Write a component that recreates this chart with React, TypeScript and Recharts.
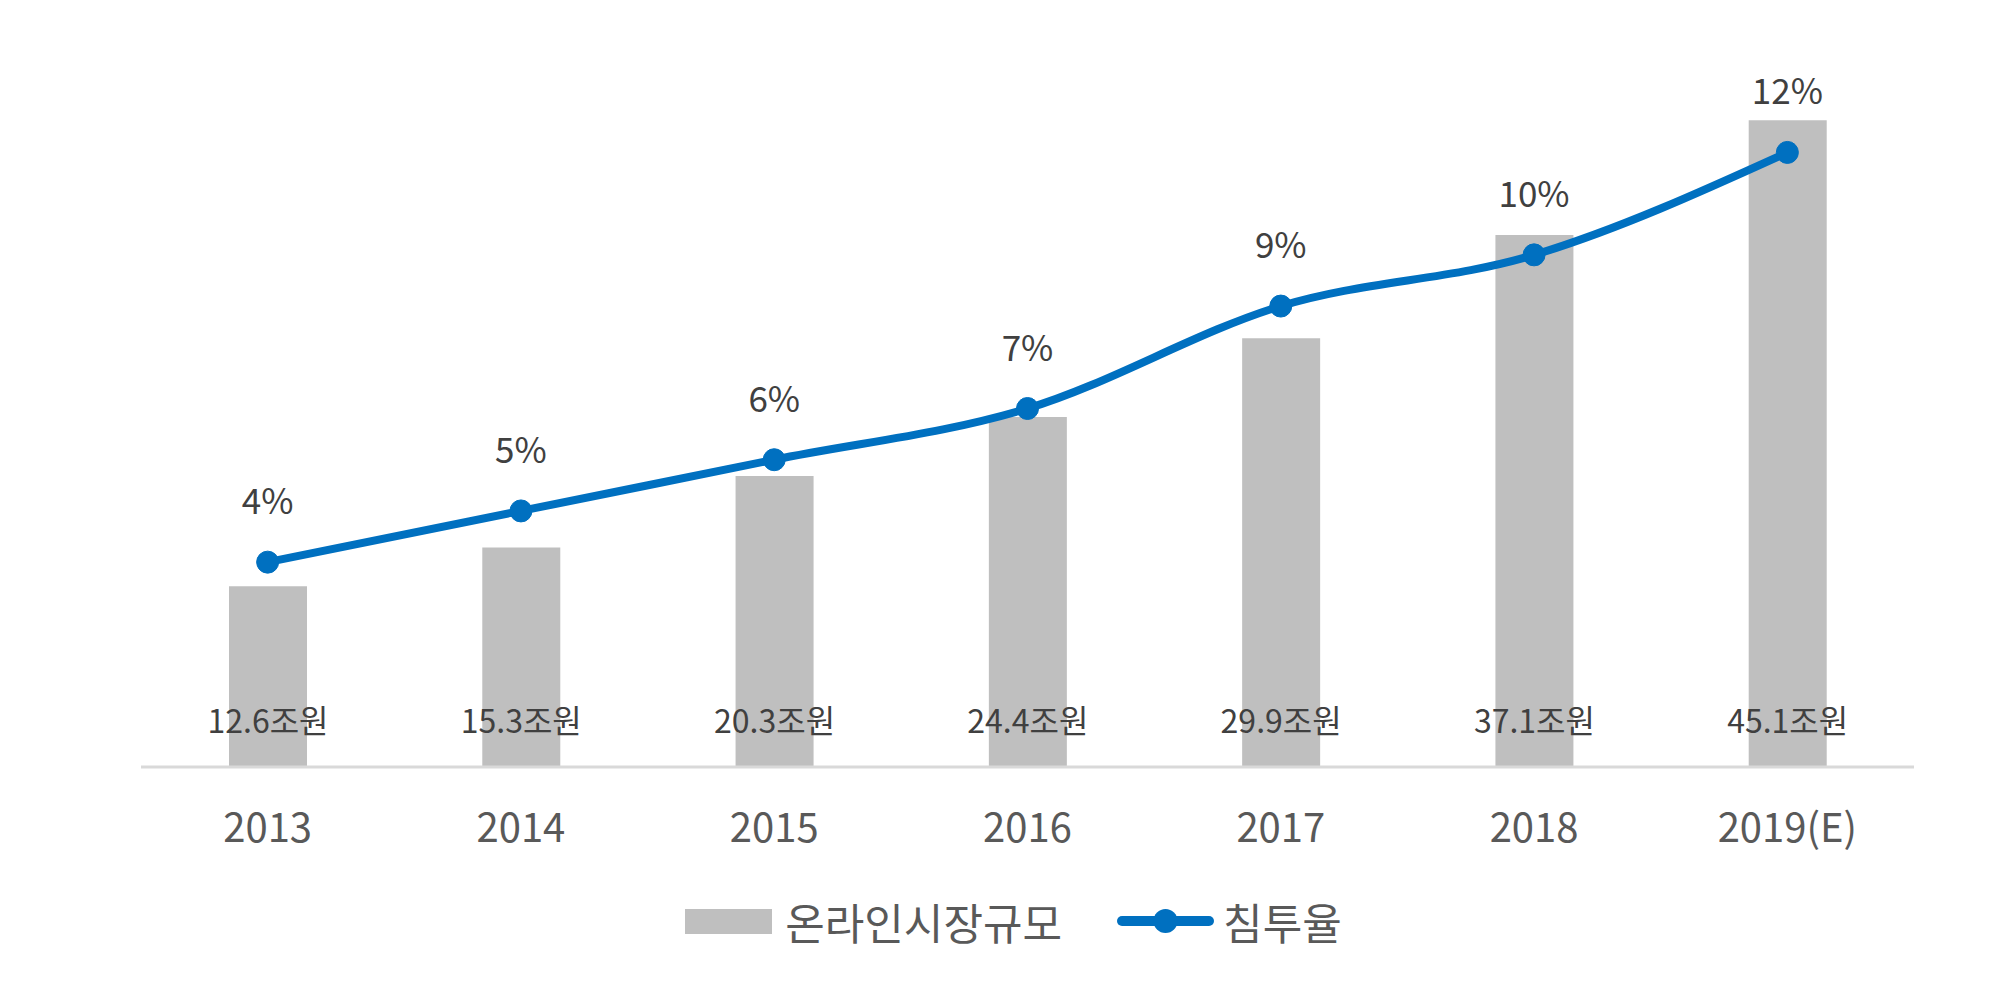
import React from 'react';
import { ComposedChart, Bar, Line, XAxis, YAxis, LabelList, Legend } from 'recharts';

// Online market size (조원) and penetration rate (%) by year
const years = ['2013', '2014', '2015', '2016', '2017', '2018', '2019(E)'];
const marketSize = [12.6, 15.3, 20.3, 24.4, 29.9, 37.1, 45.1];
const penetration = [4, 5, 6, 7, 9, 10, 12];

const sizeName = '온라인시장규모';
const rateName = '침투율';

const data = years.map((year, i) => ({
  year,
  size: marketSize[i],
  rate: penetration[i],
}));

const FONT = '"Noto Sans CJK KR", "Noto Sans", sans-serif';
const BAR_COLOR = '#bfbfbf';
const LINE_COLOR = '#0070c0';

const YearTick = (props: any) => {
  const { x, y, payload } = props;
  return (
    <text x={x} y={y + 75} textAnchor="middle" fill="#595959" fontSize={40} fontFamily={FONT}>
      {payload.value}
    </text>
  );
};

const SizeLabel = (props: any) => {
  const { x, y, width, height, value } = props;
  return (
    <text
      x={x + width / 2}
      y={y + height - 34}
      textAnchor="middle"
      fill="#404040"
      fontSize={32}
      fontFamily={FONT}
    >
      {`${value}조원`}
    </text>
  );
};

const RateLabel = (props: any) => {
  const { x, y, value } = props;
  return (
    <text x={x} y={y - 48} textAnchor="middle" fill="#404040" fontSize={35} fontFamily={FONT}>
      {`${value}%`}
    </text>
  );
};

const LegendContent = () => (
  <div
    style={{
      display: 'flex',
      justifyContent: 'center',
      alignItems: 'center',
      fontFamily: FONT,
      fontSize: 43,
      color: '#595959',
      paddingLeft: 15,
      lineHeight: '50px',
    }}
  >
    <div style={{ width: 87, height: 25, background: BAR_COLOR, marginRight: 13 }} />
    <span>{sizeName}</span>
    <svg width={97} height={30} style={{ marginLeft: 55, marginRight: 9 }}>
      <line x1={5} y1={15} x2={92} y2={15} stroke={LINE_COLOR} strokeWidth={10} strokeLinecap="round" />
      <circle cx={48.5} cy={15} r={12} fill={LINE_COLOR} />
    </svg>
    <span>{rateName}</span>
  </div>
);

export default function App() {
  return (
    <div style={{ position: 'absolute', left: 0, top: 0, background: '#fff' }}>
      <ComposedChart
        width={2012}
        height={990}
        data={data}
        margin={{ top: 50, right: 98, bottom: 143, left: 141 }}
        barCategoryGap={0}
      >
        <XAxis
          dataKey="year"
          height={80}
          axisLine={{ stroke: '#d9d9d9', strokeWidth: 3 }}
          tickLine={false}
          tickSize={0}
          tickMargin={0}
          tick={<YearTick />}
          interval={0}
        />
        <YAxis yAxisId="size" domain={[0, 50]} hide />
        <YAxis yAxisId="rate" orientation="right" domain={[0, 14]} hide />
        <Legend
          layout="horizontal"
          verticalAlign="middle"
          align="center"
          wrapperStyle={{ top: 896, left: 0, width: 2012 }}
          content={<LegendContent />}
        />
        <Bar yAxisId="size" dataKey="size" name={sizeName} fill={BAR_COLOR} barSize={78} isAnimationActive={false}>
          <LabelList dataKey="size" content={<SizeLabel />} />
        </Bar>
        <Line
          yAxisId="rate"
          type="monotone"
          dataKey="rate"
          name={rateName}
          stroke={LINE_COLOR}
          strokeWidth={8}
          dot={{ r: 11, fill: LINE_COLOR, stroke: LINE_COLOR, strokeWidth: 1 }}
          activeDot={false}
          isAnimationActive={false}
        >
          <LabelList dataKey="rate" content={<RateLabel />} />
        </Line>
      </ComposedChart>
    </div>
  );
}
